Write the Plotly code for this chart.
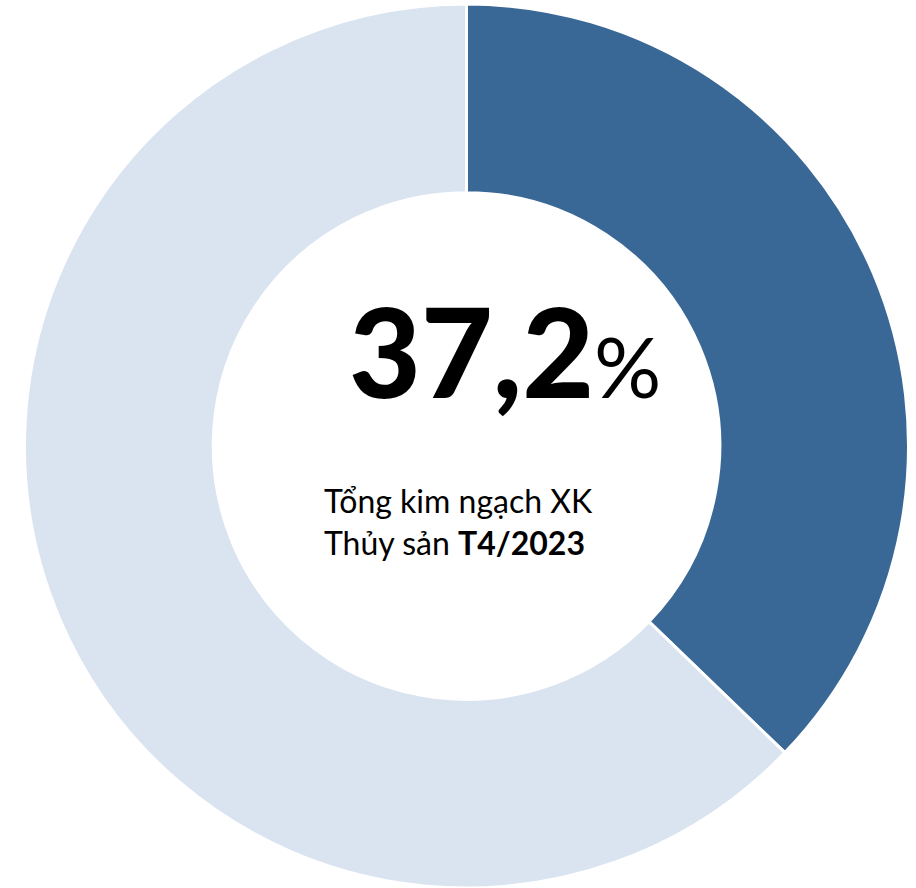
import plotly.graph_objects as go

# Share of total seafood export turnover, April 2023
labels = ["Tỷ trọng", "Còn lại"]
values = [37.2, 62.8]
colors = ["#3A6896", "#D9E4F0"]

headline = "37,2"
caption_line1 = "Tổng kim ngạch XK"
caption_line2 = "Thủy sản"
caption_period = "T4/2023"

W, H = 916, 888
cx, cy, r = 466.5, 447.0, 443.0  # pie centre / outer radius in pixels

fig = go.Figure(
    go.Pie(
        labels=labels,
        values=values,
        hole=0.573,
        sort=False,
        direction="clockwise",
        rotation=0,
        marker=dict(colors=colors, line=dict(color="white", width=3)),
        textinfo="none",
        hoverinfo="label+percent",
        showlegend=False,
        domain=dict(
            x=[(cx - r) / W, (cx + r) / W],
            y=[max(0, (H - cy - r) / H), (H - cy + r) / H],
        ),
    )
)

font = "Lato, 'Open Sans', sans-serif"
fig.add_annotation(
    x=505 / W, y=1 - 350 / H, xref="paper", yref="paper",
    xanchor="center", yanchor="middle", showarrow=False,
    text=f"{headline}<span style='font-size:84px;font-weight:400'>%</span>",
    font=dict(family=font, size=124, color="black", weight=900),
)
fig.add_annotation(
    x=322 / W, y=1 - 521 / H, xref="paper", yref="paper",
    xanchor="left", yanchor="middle", showarrow=False, align="left",
    text=f"{caption_line1}<br>{caption_line2} <b>{caption_period}</b>",
    font=dict(family=font, size=32, color="black"),
)

fig.update_layout(
    width=W, height=H,
    margin=dict(l=0, r=0, t=0, b=0),
    paper_bgcolor="white", plot_bgcolor="white",
)
fig.write_html("out.html")
